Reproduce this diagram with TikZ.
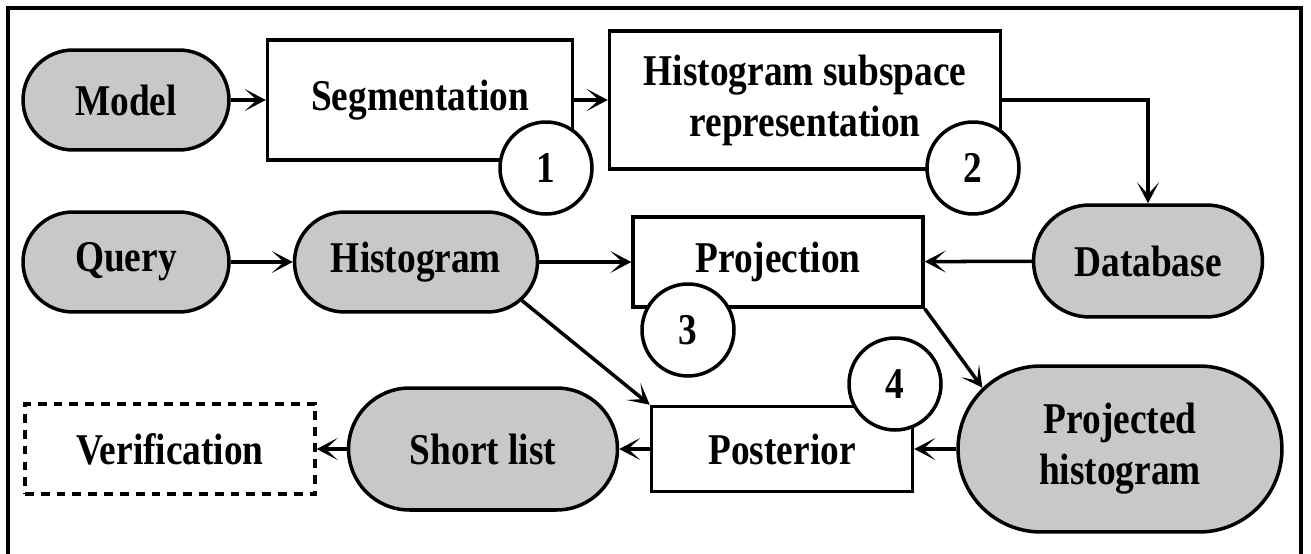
\documentclass[tikz,border=0pt]{standalone}
\usepackage{fontspec}
\setmainfont{Liberation Serif}[FakeStretch=0.85]
\usetikzlibrary{shapes.misc,arrows.meta}
\definecolor{boxgray}{RGB}{200,200,200}

\begin{document}
\begin{tikzpicture}[
			x=0.02cm, y=-0.02cm,
			font=\fontsize{25}{29}\selectfont\bfseries,
			every node/.style={inner sep=0pt, align=center},
			data/.style={rounded rectangle, draw, line width=2pt, fill=boxgray},
			proc/.style={rectangle, draw, line width=2pt, fill=white},
			stepnum/.style={circle, draw, line width=2pt, fill=white, minimum size=1.84cm},
			flow/.style={line width=2pt, -{Stealth[length=0.42cm,width=0.44cm,inset=0.24cm]}},
			frame/.style={line width=2pt}
			]
			\useasboundingbox (0,0) rectangle (1311,554);
			\draw[frame] (8,554) -- (8,8) -- (1301,8) -- (1301,554);

			% first row
			\node[data, minimum width=4.12cm, minimum height=2cm] (model) at (126,100) {Model};
			\node[proc, minimum width=6.1cm, minimum height=2.4cm] (seg) at (420,100) {Segmentation};
			\node[proc, minimum width=7.82cm, minimum height=2.76cm] (hsub) at (805,100) {Histogram subspace\\representation};

			% second row
			\node[data, minimum width=4.12cm, minimum height=2cm] (query) at (126,262) {Query};
			\node[data, minimum width=4.86cm, minimum height=2cm] (histo) at (416,262) {Histogram};
			\node[proc, minimum width=5.8cm, minimum height=1.8cm] (proj) at (778,262) {Projection};
			\node[data, minimum width=4.58cm, minimum height=2.24cm] (db) at (1148,261) {Database};

			% third row
			\node[proc, dash pattern=on 5pt off 4pt, minimum width=5.8cm, minimum height=1.8cm] (verif) at (170,449) {Verification};
			\node[data, minimum width=5.38cm, minimum height=2.44cm] (short) at (483,449) {Short list};
			\node[proc, minimum width=5.22cm, minimum height=1.7cm] (post) at (782,449) {Posterior};
			\node[data, minimum width=6.48cm, minimum height=3.32cm] (projh) at (1120,449) {Projected\\histogram};

			\draw[flow] (model) -- (seg);
			\draw[flow] (seg) -- (hsub);
			\draw[flow] (hsub.east) -| (db.north);
			\draw[flow] (query) -- (histo);
			\draw[flow] (histo) -- (proj);
			\draw[flow] (db) -- (proj);
			\draw[flow] (histo.-20) -- (post.north west);
			\draw[flow] (proj.south east) -- (projh.156);
			\draw[flow] (projh) -- (post);
			\draw[flow] (post) -- (short);
			\draw[flow] (short) -- (verif);

			% step numbers
			\node[stepnum] (s1) at (546,168) {1};
			\node[stepnum] (s2) at (973,168) {2};
			\node[stepnum] (s3) at (688,330) {3};
			\node[stepnum] (s4) at (895,384) {4};
\end{tikzpicture}
\end{document}
